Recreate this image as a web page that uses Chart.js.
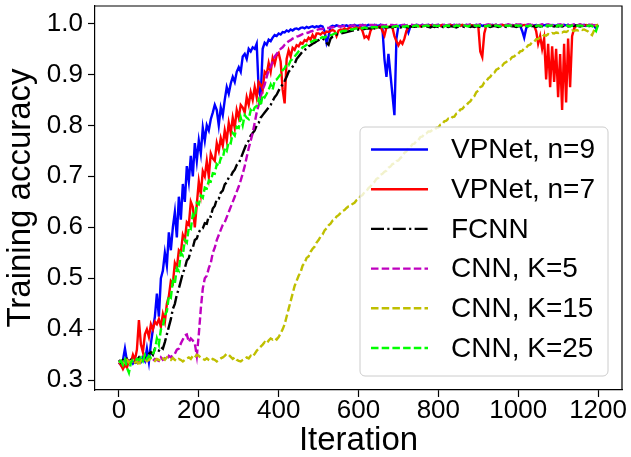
<!DOCTYPE html>
<html>
<head>
<meta charset="utf-8">
<script src="https://cdn.jsdelivr.net/npm/chart.js@4.4.1/dist/chart.umd.min.js"></script>
<style>
  html, body { margin: 0; padding: 0; background: #ffffff; }
  canvas { display: block; }
</style>
</head>
<body>
<canvas id="chart" width="631" height="457"></canvas>
<script>
// Training iterations at which accuracy was logged
const iterations = [
  0,5,10,15,20,25,30,35,40,45,50,55,60,65,70,75,80,85,90,95,
  100,105,110,115,120,125,130,135,140,145,150,155,160,165,170,175,180,185,190,195,
  200,205,210,215,220,225,230,235,240,245,250,255,260,265,270,275,280,285,290,295,
  300,305,310,315,320,325,330,335,340,345,350,355,360,365,370,375,380,385,390,395,
  400,405,410,415,420,425,430,435,440,445,450,455,460,465,470,475,480,485,490,495,
  500,505,510,515,520,525,530,535,540,545,550,555,560,565,570,575,580,585,590,595,
  600,605,610,615,620,625,630,635,640,645,650,655,660,665,670,675,680,685,690,695,
  700,705,710,715,720,725,730,735,740,745,750,755,760,765,770,775,780,785,790,795,
  800,805,810,815,820,825,830,835,840,845,850,855,860,865,870,875,880,885,890,895,
  900,905,910,915,920,925,930,935,940,945,950,955,960,965,970,975,980,985,990,995,
  1000,1005,1010,1015,1020,1025,1030,1035,1040,1045,1050,1055,1060,1065,1070,1075,1080,1085,1090,1095,
  1100,1105,1110,1115,1120,1125,1130,1135,1140,1145,1150,1155,1160,1165,1170,1175,1180,1185,1190,1195,
  1200
];

const vpnetN9 = [
  0.335,0.33,0.34,0.362,0.338,0.335,0.34,0.333,0.338,0.335,0.34,0.336,0.345,0.338,0.362,0.336,0.372,0.4,0.425,0.47,
  0.425,0.5,0.515,0.55,0.525,0.59,0.555,0.6,0.63,0.58,0.66,0.615,0.685,0.65,0.72,0.69,0.74,0.7,0.765,0.73,
  0.77,0.745,0.795,0.77,0.8,0.79,0.812,0.825,0.84,0.83,0.8,0.835,0.82,0.85,0.875,0.862,0.882,0.895,0.885,0.905,
  0.914,0.905,0.935,0.94,0.93,0.95,0.945,0.953,0.95,0.96,0.87,0.855,0.95,0.962,0.958,0.968,0.965,0.972,0.977,0.975,
  0.98,0.978,0.983,0.982,0.986,0.984,0.988,0.986,0.989,0.99,0.988,0.991,0.992,0.99,0.993,0.991,0.993,0.994,0.992,0.994,
  0.993,0.995,0.994,0.985,0.962,0.975,0.993,0.995,0.994,0.996,0.995,0.994,0.996,0.995,0.996,0.994,0.996,0.995,0.997,0.995,
  0.996,0.995,0.997,0.996,0.995,0.997,0.996,0.995,0.997,0.996,0.995,0.997,0.99,0.93,0.895,0.94,0.9,0.86,0.82,0.97,
  0.995,0.996,0.995,0.997,0.993,0.982,0.994,0.996,0.995,0.997,0.996,0.995,0.997,0.996,0.995,0.997,0.996,0.997,0.995,0.996,
  0.997,0.995,0.996,0.997,0.996,0.995,0.997,0.996,0.997,0.995,0.996,0.997,0.996,0.995,0.997,0.996,0.997,0.996,0.995,0.997,
  0.996,0.997,0.995,0.996,0.997,0.996,0.995,0.997,0.996,0.997,0.995,0.996,0.997,0.996,0.995,0.997,0.996,0.997,0.996,0.995,
  0.996,0.995,0.985,0.972,0.99,0.996,0.997,0.995,0.996,0.997,0.996,0.995,0.997,0.996,0.997,0.995,0.996,0.997,0.996,0.995,
  0.997,0.996,0.995,0.997,0.996,0.997,0.995,0.996,0.997,0.996,0.995,0.997,0.996,0.997,0.995,0.996,0.997,0.996,0.995,0.99,
  0.997
];

const vpnetN7 = [
  0.335,0.33,0.322,0.33,0.325,0.338,0.335,0.35,0.34,0.36,0.418,0.37,0.355,0.39,0.4,0.385,0.41,0.4,0.415,0.41,
  0.42,0.405,0.43,0.415,0.45,0.465,0.495,0.49,0.53,0.52,0.555,0.55,0.585,0.575,0.61,0.605,0.65,0.64,0.6,0.645,
  0.69,0.665,0.71,0.7,0.73,0.7,0.745,0.735,0.73,0.765,0.75,0.775,0.76,0.79,0.77,0.805,0.785,0.815,0.795,0.83,
  0.815,0.84,0.835,0.825,0.855,0.84,0.865,0.85,0.875,0.855,0.885,0.88,0.87,0.905,0.9,0.922,0.905,0.932,0.92,0.937,
  0.942,0.925,0.87,0.843,0.93,0.947,0.935,0.952,0.948,0.957,0.955,0.962,0.96,0.967,0.965,0.972,0.968,0.977,0.97,0.98,
  0.98,0.978,0.982,0.98,0.984,0.983,0.985,0.987,0.985,0.975,0.986,0.988,0.987,0.99,0.988,0.99,0.991,0.989,0.991,0.992,
  0.99,0.992,0.985,0.972,0.975,0.97,0.985,0.992,0.993,0.991,0.993,0.994,0.985,0.976,0.992,0.993,0.994,0.992,0.975,0.965,
  0.957,0.965,0.96,0.97,0.985,0.993,0.994,0.995,0.994,0.996,0.995,0.994,0.996,0.995,0.996,0.994,0.996,0.995,0.996,0.995,
  0.996,0.995,0.997,0.996,0.995,0.996,0.997,0.995,0.996,0.997,0.996,0.995,0.997,0.996,0.995,0.996,0.997,0.996,0.995,0.996,
  0.995,0.945,0.934,0.98,0.995,0.996,0.997,0.995,0.996,0.997,0.996,0.995,0.997,0.996,0.995,0.996,0.997,0.996,0.995,0.996,
  0.997,0.995,0.996,0.997,0.996,0.995,0.997,0.996,0.995,0.985,0.96,0.975,0.95,0.97,0.89,0.96,0.875,0.955,0.885,0.95,
  0.855,0.94,0.83,0.96,0.845,0.97,0.875,0.975,0.99,0.995,0.996,0.997,0.995,0.996,0.997,0.996,0.995,0.997,0.996,0.995,
  0.998
];

const fcnn = [
  0.34,0.335,0.34,0.338,0.342,0.336,0.34,0.338,0.335,0.34,0.345,0.338,0.34,0.345,0.348,0.352,0.355,0.35,0.362,0.36,
  0.358,0.365,0.362,0.375,0.39,0.405,0.42,0.44,0.45,0.468,0.48,0.495,0.51,0.52,0.535,0.54,0.555,0.56,0.575,0.578,
  0.59,0.597,0.598,0.608,0.607,0.622,0.621,0.637,0.642,0.655,0.656,0.668,0.672,0.684,0.688,0.698,0.7,0.708,0.713,0.722,
  0.725,0.735,0.745,0.755,0.765,0.77,0.78,0.785,0.79,0.8,0.805,0.815,0.82,0.825,0.83,0.835,0.84,0.848,0.855,0.86,
  0.868,0.875,0.88,0.887,0.895,0.905,0.91,0.915,0.92,0.93,0.935,0.94,0.945,0.948,0.95,0.955,0.957,0.96,0.962,0.965,
  0.967,0.969,0.97,0.968,0.962,0.958,0.97,0.974,0.976,0.978,0.979,0.98,0.981,0.982,0.983,0.984,0.985,0.986,0.986,0.987,
  0.988,0.988,0.989,0.989,0.99,0.99,0.99,0.991,0.99,0.991,0.991,0.992,0.991,0.992,0.992,0.992,0.993,0.992,0.993,0.993,
  0.993,0.992,0.993,0.994,0.993,0.992,0.994,0.993,0.993,0.994,0.992,0.993,0.994,0.993,0.994,0.993,0.992,0.994,0.993,0.994,
  0.993,0.994,0.993,0.992,0.994,0.993,0.994,0.994,0.993,0.992,0.994,0.993,0.994,0.993,0.994,0.995,0.993,0.994,0.993,0.994,
  0.994,0.993,0.994,0.995,0.993,0.994,0.993,0.994,0.995,0.994,0.993,0.994,0.995,0.994,0.993,0.994,0.995,0.994,0.994,0.993,
  0.994,0.995,0.994,0.993,0.994,0.995,0.994,0.995,0.994,0.993,0.995,0.994,0.995,0.994,0.995,0.994,0.993,0.995,0.994,0.995,
  0.994,0.995,0.994,0.995,0.996,0.994,0.995,0.994,0.995,0.996,0.995,0.994,0.995,0.996,0.995,0.994,0.995,0.996,0.995,0.995,
  0.996
];

const cnnK5 = [
  0.335,0.338,0.335,0.34,0.336,0.338,0.335,0.337,0.34,0.336,0.338,0.34,0.337,0.34,0.338,0.342,0.34,0.338,0.342,0.34,
  0.338,0.345,0.34,0.343,0.34,0.348,0.345,0.35,0.352,0.36,0.362,0.372,0.38,0.388,0.39,0.375,0.382,0.378,0.372,0.348,
  0.39,0.44,0.48,0.5,0.505,0.52,0.53,0.55,0.56,0.575,0.585,0.595,0.605,0.61,0.62,0.63,0.64,0.65,0.66,0.67,
  0.68,0.692,0.705,0.72,0.738,0.755,0.77,0.785,0.805,0.825,0.84,0.855,0.87,0.88,0.895,0.908,0.915,0.925,0.935,0.94,
  0.945,0.95,0.953,0.958,0.962,0.965,0.967,0.97,0.972,0.974,0.975,0.977,0.979,0.98,0.981,0.982,0.984,0.985,0.986,0.987,
  0.988,0.989,0.989,0.99,0.991,0.991,0.992,0.992,0.993,0.993,0.994,0.994,0.994,0.995,0.995,0.995,0.995,0.996,0.996,0.996,
  0.996,0.997,0.996,0.996,0.997,0.996,0.997,0.997,0.996,0.997,0.996,0.997,0.997,0.996,0.997,0.996,0.997,0.997,0.996,0.997,
  0.997,0.996,0.997,0.997,0.996,0.997,0.998,0.997,0.996,0.997,0.997,0.998,0.997,0.996,0.997,0.997,0.998,0.997,0.996,0.997,
  0.997,0.996,0.997,0.997,0.996,0.997,0.998,0.997,0.996,0.997,0.997,0.998,0.997,0.996,0.997,0.997,0.998,0.997,0.996,0.997,
  0.997,0.998,0.997,0.996,0.997,0.998,0.997,0.997,0.998,0.997,0.996,0.997,0.998,0.997,0.997,0.998,0.997,0.996,0.997,0.998,
  0.997,0.998,0.997,0.996,0.997,0.998,0.997,0.997,0.998,0.997,0.996,0.997,0.998,0.997,0.997,0.998,0.997,0.996,0.997,0.998,
  0.997,0.998,0.997,0.997,0.998,0.997,0.996,0.997,0.998,0.997,0.997,0.998,0.997,0.996,0.997,0.998,0.997,0.997,0.996,0.997,
  0.998
];

const cnnK15 = [
  0.335,0.338,0.333,0.336,0.34,0.335,0.338,0.34,0.335,0.338,0.328,0.34,0.338,0.342,0.338,0.34,0.343,0.34,0.338,0.342,
  0.34,0.338,0.343,0.34,0.345,0.342,0.34,0.344,0.34,0.338,0.342,0.34,0.337,0.34,0.343,0.345,0.342,0.348,0.345,0.35,
  0.348,0.344,0.342,0.34,0.343,0.34,0.338,0.342,0.34,0.337,0.34,0.343,0.345,0.348,0.352,0.35,0.346,0.342,0.345,0.34,
  0.338,0.337,0.34,0.342,0.345,0.343,0.348,0.346,0.352,0.358,0.362,0.366,0.37,0.375,0.372,0.378,0.382,0.38,0.383,0.38,
  0.385,0.392,0.4,0.41,0.425,0.44,0.455,0.47,0.485,0.495,0.505,0.512,0.525,0.53,0.54,0.543,0.552,0.558,0.562,0.57,
  0.575,0.582,0.586,0.594,0.598,0.604,0.607,0.613,0.615,0.621,0.624,0.628,0.632,0.634,0.638,0.641,0.642,0.646,0.648,0.653,
  0.655,0.661,0.663,0.669,0.671,0.677,0.68,0.686,0.689,0.695,0.697,0.703,0.705,0.709,0.711,0.717,0.719,0.724,0.725,0.73,
  0.731,0.736,0.739,0.746,0.749,0.756,0.757,0.763,0.764,0.769,0.771,0.777,0.778,0.783,0.784,0.788,0.788,0.791,0.791,0.795,
  0.796,0.801,0.802,0.808,0.809,0.813,0.812,0.816,0.817,0.823,0.825,0.831,0.832,0.837,0.839,0.844,0.847,0.853,0.857,0.865,
  0.868,0.875,0.877,0.884,0.886,0.892,0.895,0.901,0.903,0.909,0.911,0.916,0.917,0.922,0.924,0.928,0.929,0.934,0.935,0.939,
  0.94,0.945,0.946,0.951,0.952,0.957,0.958,0.963,0.964,0.969,0.969,0.973,0.973,0.977,0.976,0.979,0.978,0.981,0.98,0.982,
  0.981,0.983,0.982,0.984,0.983,0.985,0.984,0.986,0.985,0.987,0.986,0.988,0.987,0.988,0.986,0.984,0.98,0.977,0.986,0.995,
  0.997
];

const cnnK25 = [
  0.335,0.338,0.33,0.34,0.325,0.315,0.335,0.34,0.338,0.342,0.34,0.345,0.338,0.35,0.342,0.348,0.345,0.352,0.36,0.382,
  0.37,0.4,0.405,0.428,0.435,0.465,0.462,0.495,0.49,0.52,0.515,0.55,0.545,0.575,0.57,0.6,0.597,0.625,0.62,0.648,
  0.645,0.662,0.658,0.678,0.676,0.692,0.69,0.706,0.705,0.724,0.72,0.736,0.735,0.755,0.75,0.768,0.765,0.785,0.78,0.797,
  0.795,0.815,0.8,0.82,0.815,0.812,0.83,0.825,0.835,0.838,0.85,0.838,0.86,0.855,0.862,0.87,0.88,0.87,0.888,0.89,
  0.895,0.9,0.908,0.912,0.92,0.918,0.927,0.93,0.935,0.94,0.945,0.948,0.953,0.955,0.958,0.96,0.963,0.965,0.967,0.968,
  0.97,0.971,0.973,0.972,0.975,0.976,0.977,0.978,0.98,0.981,0.982,0.983,0.985,0.985,0.986,0.987,0.988,0.988,0.989,0.99,
  0.99,0.991,0.99,0.992,0.991,0.992,0.993,0.992,0.993,0.992,0.993,0.994,0.993,0.994,0.993,0.994,0.994,0.993,0.994,0.995,
  0.994,0.995,0.994,0.993,0.995,0.994,0.995,0.994,0.995,0.996,0.994,0.995,0.994,0.995,0.996,0.995,0.994,0.995,0.996,0.995,
  0.995,0.996,0.995,0.994,0.996,0.995,0.996,0.995,0.994,0.996,0.995,0.996,0.995,0.996,0.995,0.994,0.996,0.995,0.996,0.995,
  0.996,0.995,0.996,0.995,0.994,0.996,0.995,0.996,0.995,0.996,0.995,0.994,0.996,0.995,0.996,0.995,0.996,0.995,0.994,0.996,
  0.995,0.996,0.995,0.996,0.995,0.994,0.996,0.995,0.996,0.995,0.996,0.995,0.994,0.996,0.995,0.996,0.995,0.996,0.995,0.994,
  0.996,0.995,0.996,0.995,0.996,0.995,0.994,0.996,0.995,0.996,0.995,0.996,0.995,0.994,0.996,0.995,0.996,0.995,0.99,0.985,
  0.997
];

const seriesLabels = ['VPNet, n=9', 'VPNet, n=7', 'FCNN', 'CNN, K=5', 'CNN, K=15', 'CNN, K=25'];
const xTickValues = [0, 200, 400, 600, 800, 1000, 1200];
const yTickValues = [0.3, 0.4, 0.5, 0.6, 0.7, 0.8, 0.9, 1.0];

const FONT = '"Liberation Sans", Arial, Helvetica, sans-serif';

function pairs(values) {
  return values.map((v, i) => ({ x: iterations[i], y: v }));
}

const lineStyles = [
  { color: '#0000ff', dash: [] },
  { color: '#ff0000', dash: [] },
  { color: '#000000', dash: [13, 3.3, 2.2, 3.3] },
  { color: '#bf00bf', dash: [7.5, 3.2] },
  { color: '#bfbf00', dash: [7.5, 3.2] },
  { color: '#00ff00', dash: [7.5, 3.2] }
];

const seriesValues = [vpnetN9, vpnetN7, fcnn, cnnK5, cnnK15, cnnK25];

const datasets = seriesValues.map((vals, i) => ({
  label: seriesLabels[i],
  data: pairs(vals),
  borderColor: lineStyles[i].color,
  backgroundColor: lineStyles[i].color,
  borderDash: lineStyles[i].dash,
  borderWidth: 2.4,
  pointRadius: 0,
  tension: 0,
  fill: false,
  order: seriesValues.length - i
}));

// top and right spines to close the axes box
const axesFrame = {
  id: 'axesFrame',
  afterDatasetsDraw(chart) {
    const { ctx, chartArea: a } = chart;
    ctx.save();
    ctx.strokeStyle = '#000';
    ctx.lineWidth = 1.2;
    ctx.beginPath();
    ctx.moveTo(a.left, a.top);
    ctx.lineTo(a.right, a.top);
    ctx.lineTo(a.right, a.bottom);
    ctx.stroke();
    ctx.restore();
  }
};

// legend drawn inside the plot, lower right
const insetLegend = {
  id: 'insetLegend',
  afterDraw(chart) {
    const { ctx, chartArea: a } = chart;
    const w = 248, h = 249;
    const x0 = a.right - 14 - w;
    const y0 = a.top + 121;
    const r = 5;
    ctx.save();
    ctx.beginPath();
    ctx.moveTo(x0 + r, y0);
    ctx.lineTo(x0 + w - r, y0);
    ctx.arcTo(x0 + w, y0, x0 + w, y0 + r, r);
    ctx.lineTo(x0 + w, y0 + h - r);
    ctx.arcTo(x0 + w, y0 + h, x0 + w - r, y0 + h, r);
    ctx.lineTo(x0 + r, y0 + h);
    ctx.arcTo(x0, y0 + h, x0, y0 + h - r, r);
    ctx.lineTo(x0, y0 + r);
    ctx.arcTo(x0, y0, x0 + r, y0, r);
    ctx.closePath();
    ctx.fillStyle = 'rgba(255,255,255,0.8)';
    ctx.fill();
    ctx.strokeStyle = '#cccccc';
    ctx.lineWidth = 1;
    ctx.stroke();

    chart.data.datasets.forEach((ds, i) => {
      const cy = y0 + 22.5 + i * 39.7;
      ctx.beginPath();
      ctx.setLineDash(ds.borderDash || []);
      ctx.lineDashOffset = 0;
      ctx.strokeStyle = ds.borderColor;
      ctx.lineWidth = ds.borderWidth;
      ctx.moveTo(x0 + 11, cy);
      ctx.lineTo(x0 + 68, cy);
      ctx.stroke();
      ctx.setLineDash([]);
      ctx.fillStyle = '#000';
      ctx.font = '28px ' + FONT;
      ctx.textBaseline = 'middle';
      ctx.textAlign = 'left';
      ctx.fillText(ds.label, x0 + 91, cy + 1);
    });
    ctx.restore();
  }
};

function noScalePadding(scale) {
  scale.paddingLeft = 0;
  scale.paddingRight = 0;
  scale.paddingTop = 0;
  scale.paddingBottom = 0;
}

new Chart(document.getElementById('chart'), {
  type: 'line',
  data: { datasets },
  options: {
    responsive: false,
    animation: false,
    devicePixelRatio: 1,
    layout: { padding: { left: 0, right: 9, top: 6, bottom: 0 } },
    plugins: {
      legend: { display: false },
      tooltip: { enabled: false }
    },
    scales: {
      x: {
        type: 'linear',
        min: -60,
        max: 1260,
        afterBuildTicks: (s) => { s.ticks = xTickValues.map(v => ({ value: v })); },
        afterFit: (s) => { s.height = 67; noScalePadding(s); },
        grid: { drawOnChartArea: false, drawTicks: true, tickLength: 7, tickColor: '#000', tickWidth: 1.2 },
        border: { display: true, color: '#000', width: 1.2 },
        ticks: {
          color: '#000',
          font: { family: FONT, size: 26, lineHeight: 1 },
          padding: 1,
          maxRotation: 0,
          autoSkip: false,
          callback: (v) => String(v)
        },
        title: {
          display: true,
          text: 'Iteration',
          color: '#000',
          font: { family: FONT, size: 33, lineHeight: 1 },
          padding: { top: 0, bottom: 0 }
        }
      },
      y: {
        type: 'linear',
        min: 0.281,
        max: 1.034,
        afterBuildTicks: (s) => { s.ticks = yTickValues.map(v => ({ value: v })); },
        afterFit: (s) => { s.width = 95; noScalePadding(s); },
        grid: { drawOnChartArea: false, drawTicks: true, tickLength: 7, tickColor: '#000', tickWidth: 1.2 },
        border: { display: true, color: '#000', width: 1.2 },
        ticks: {
          color: '#000',
          font: { family: FONT, size: 26, lineHeight: 1 },
          padding: 5,
          autoSkip: false,
          callback: (v) => Number(v).toFixed(1)
        },
        title: {
          display: true,
          text: 'Training accuracy',
          color: '#000',
          font: { family: FONT, size: 33, lineHeight: 1 },
          padding: { top: 4, bottom: 0 }
        }
      }
    }
  },
  plugins: [axesFrame, insetLegend]
});
</script>
</body>
</html>
